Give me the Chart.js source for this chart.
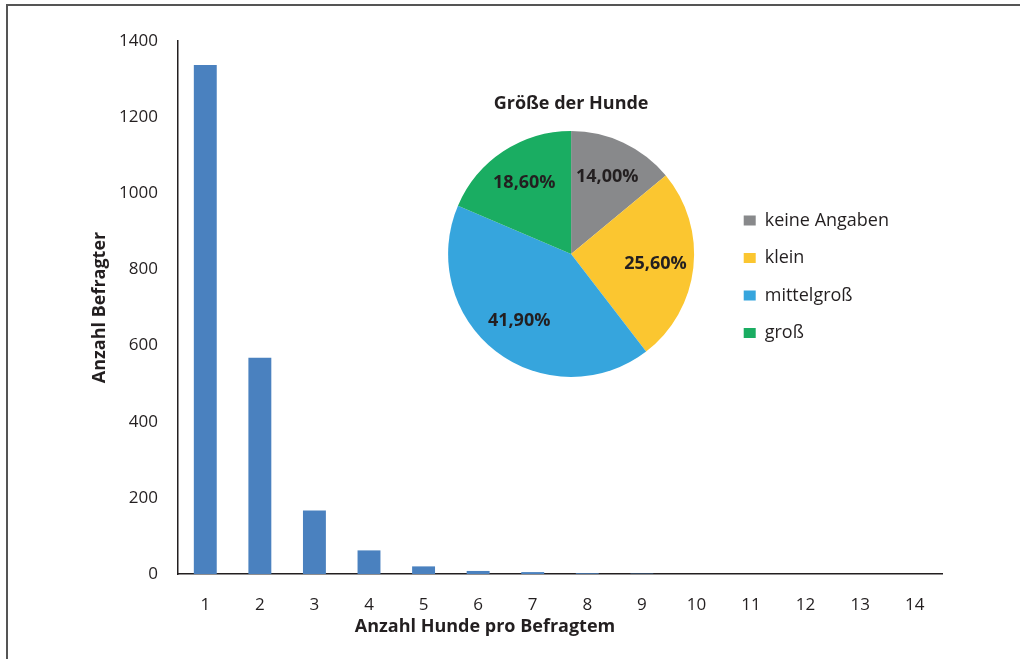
<!DOCTYPE html>
<html lang="de">
<head>
<meta charset="utf-8">
<title>Anzahl Hunde pro Befragtem</title>
<script src="https://cdn.jsdelivr.net/npm/chart.js@4.4.1/dist/chart.umd.min.js"></script>
<style>
  html, body { margin: 0; padding: 0; background: #fff; }
  #frame {
    position: absolute; left: 6px; top: 4px; width: 1020px; height: 660px;
    border-top: 2px solid #555; border-left: 2px solid #555;
  }
  #barChart { position: absolute; left: 0; top: 0; }
  #pieChart { position: absolute; left: 418px; top: 93px; }
</style>
</head>
<body>
<div id="frame"></div>
<canvas id="barChart" width="1020" height="659"></canvas>
<canvas id="pieChart" width="481" height="284"></canvas>
<script>
const hundeProBefragtem = ['1', '2', '3', '4', '5', '6', '7', '8', '9', '10', '11', '12', '13', '14'];
const anzahlBefragter = [1337, 568, 167, 62, 20, 8, 5, 2, 1, 0, 0, 0, 0, 0];
const yTicks = [0, 200, 400, 600, 800, 1000, 1200, 1400];

const groessen = ['keine Angaben', 'klein', 'mittelgroß', 'groß'];
const groessenAnteil = [14.0, 25.6, 41.9, 18.6];
const groessenFarben = ['#88898b', '#fbc630', '#36a5dd', '#1aad62'];

const textColor = '#231f20';
const fontFamily = '"Open Sans", "Liberation Sans", sans-serif';

Chart.defaults.font.family = fontFamily;
Chart.defaults.color = textColor;

// x-Achsentitel sitzt in Excel nicht mittig über der Zeichenfläche
const xTitle = {
  id: 'xTitle',
  afterDraw(chart) {
    const ctx = chart.ctx;
    ctx.save();
    ctx.font = 'bold 18px ' + fontFamily;
    ctx.fillStyle = textColor;
    ctx.textAlign = 'center';
    ctx.textBaseline = 'middle';
    ctx.fillText('Anzahl Hunde pro Befragtem', 485, 627);
    ctx.restore();
  }
};

// Balkendiagramm
new Chart(document.getElementById('barChart'), {
  type: 'bar',
  data: {
    labels: hundeProBefragtem,
    datasets: [{
      label: 'Anzahl Befragter',
      data: anzahlBefragter,
      backgroundColor: '#4a81bf',
      barPercentage: 0.42,
      categoryPercentage: 1
    }]
  },
  options: {
    responsive: false,
    animation: false,
    layout: { padding: { top: 41, right: 78, left: 0, bottom: 0 } },
    plugins: { legend: { display: false }, tooltip: { enabled: false } },
    scales: {
      x: {
        grid: { display: false },
        border: { color: textColor, width: 1.5 },
        ticks: { font: { size: 17 }, color: textColor, padding: 13 },
        afterFit: s => { s.height = 85; }
      },
      y: {
        min: 0,
        max: 1400,
        grid: { display: false },
        border: { color: textColor, width: 1.5 },
        afterBuildTicks: s => { s.ticks = yTicks.map(v => ({ value: v })); },
        ticks: { font: { size: 17 }, color: textColor, padding: 12, callback: v => String(v) },
        title: {
          display: true,
          text: 'Anzahl Befragter',
          font: { size: 18, weight: 'bold' },
          padding: { top: 89, bottom: 0 }
        },
        afterFit: s => { s.width = 178; }
      }
    }
  },
  plugins: [xTitle]
});

// Prozentwerte in die Tortenstücke schreiben
const pieLabels = {
  id: 'pieLabels',
  afterDatasetsDraw(chart) {
    const ctx = chart.ctx;
    const meta = chart.getDatasetMeta(0);
    ctx.save();
    ctx.font = 'bold 18px ' + fontFamily;
    ctx.fillStyle = textColor;
    ctx.textAlign = 'center';
    ctx.textBaseline = 'middle';
    meta.data.forEach((arc, i) => {
      const p = arc.getProps(['x', 'y', 'startAngle', 'endAngle', 'outerRadius']);
      const mid = (p.startAngle + p.endAngle) / 2;
      const r = p.outerRadius * 0.69;
      const txt = groessenAnteil[i].toFixed(2).replace('.', ',') + '%';
      ctx.fillText(txt, p.x + Math.cos(mid) * r, p.y + Math.sin(mid) * r);
    });
    ctx.restore();
  }
};

new Chart(document.getElementById('pieChart'), {
  type: 'pie',
  data: {
    labels: groessen,
    datasets: [{
      data: groessenAnteil,
      backgroundColor: groessenFarben,
      borderWidth: 0
    }]
  },
  options: {
    responsive: false,
    animation: false,
    plugins: {
      tooltip: { enabled: false },
      title: {
        display: true,
        text: 'Größe der Hunde',
        fullSize: false,
        font: { size: 18, weight: 'bold' },
        color: textColor,
        padding: { top: 0, bottom: 16.4 }
      },
      legend: {
        position: 'right',
        align: 'start',
        title: { display: true, text: '', font: { size: 17 }, padding: { top: 0, bottom: 78.6 } },
        labels: {
          boxWidth: 12,
          boxHeight: 10,
          padding: 19.5,
          font: { size: 18 },
          color: textColor
        }
      }
    }
  },
  plugins: [pieLabels]
});
</script>
</body>
</html>
